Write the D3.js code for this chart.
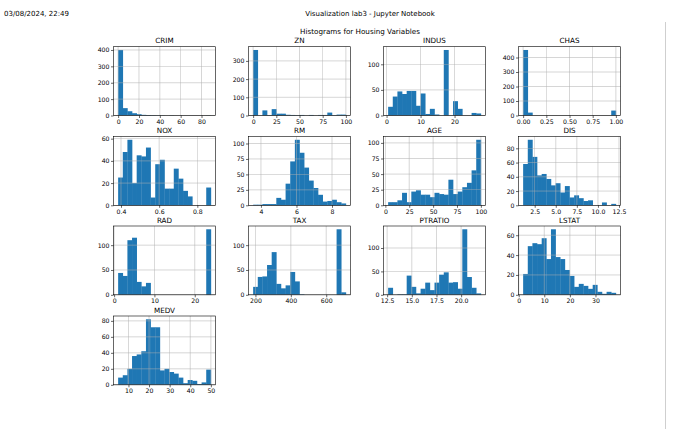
<!DOCTYPE html>
<html><head><meta charset="utf-8">
<script src="https://cdn.jsdelivr.net/npm/d3@7"></script>
<style>
body{margin:0;background:#fff;}
svg text{font-family:"DejaVu Sans",sans-serif;}
</style></head>
<body><svg id="c" width="680" height="429"></svg>
<script>
// ---- data (counts per bin, 20 bins each) ----
const variables = ["CRIM","ZN","INDUS","CHAS","NOX","RM","AGE","DIS","RAD","TAX","PTRATIO","LSTAT","MEDV"];
const crimCounts  = [400,45,26,14,8,4,3,2,1,1,0,1,0,0,0,0,0,0,0,1];
const znCounts    = [360,0,28,2,35,10,10,4,3,2,3,0,3,0,3,3,16,2,5,5];
const indusCounts = [17,37,47,42,48,48,19,43,3,13,2,0,128,0,28,13,0,0,5,4];
const chasCounts  = [452,20,0,0,0,0,0,0,0,0,0,0,0,0,0,0,0,0,0,34];
const noxCounts   = [25,48,59,20,45,44,52,7,37,41,15,15,33,24,13,8,0,0,0,16];
const rmCounts    = [1,1,2,2,2,12,9,35,71,106,85,61,40,28,17,6,7,9,5,3];
const ageCounts   = [5,5,8,20,5,22,24,17,17,13,20,18,17,41,18,22,29,36,56,105];
const disCounts   = [58,92,68,42,44,37,28,31,18,27,11,14,10,6,7,0,0,4,0,2];
const radCounts   = [44,38,110,115,26,17,24,0,0,0,0,0,0,0,0,0,0,0,0,132];
const taxCounts   = [16,36,37,60,86,22,13,19,46,27,1,0,0,0,0,0,0,0,132,5];
const ptCounts    = [15,0,1,1,41,17,3,13,26,10,26,43,48,26,27,13,140,38,15,3];
const lstatCounts = [21,49,52,51,57,36,66,38,36,25,19,8,11,9,6,10,3,1,3,2];
const medvCounts  = [9,12,20,36,38,42,82,72,72,18,20,16,14,9,2,6,5,1,3,19];
const allCounts = [crimCounts,znCounts,indusCounts,chasCounts,noxCounts,rmCounts,ageCounts,disCounts,radCounts,taxCounts,ptCounts,lstatCounts,medvCounts];
// data ranges [min, max]
const ranges = [[0.00632,88.9762],[0,100],[0.46,27.74],[0,1],[0.385,0.871],[3.561,8.78],[2.9,100],[1.1296,12.1265],[1,24],[187,711],[12.6,22],[1.73,37.97],[5,50]];
// tick labels
const xTicks = [
  ["0","20","40","60","80"],["0","25","50","75","100"],["0","10","20"],["0.00","0.25","0.50","0.75","1.00"],
  ["0.4","0.6","0.8"],["4","6","8"],["0","25","50","75","100"],["2.5","5.0","7.5","10.0","12.5"],
  ["0","10","20"],["200","400","600"],["12.5","15.0","17.5","20.0"],["0","10","20","30"],["10","20","30","40","50"]];
const yTicks = [
  ["0","100","200","300","400"],["0","100","200","300"],["0","50","100"],["0","100","200","300","400"],
  ["0","20","40","60"],["0","25","50","75","100"],["0","25","50","75","100"],["0","20","40","60","80"],
  ["0","50","100"],["0","50","100"],["0","50","100"],["0","20","40","60"],["0","20","40","60","80"]];

const headerLeft = "03/08/2024, 22:49";
const headerCenter = "Visualization lab3 - Jupyter Notebook";
const mainTitle = "Histograms for Housing Variables";

// ---- layout ----
const svg = d3.select("#c");
const colLeft = [113.5, 248.5, 383.5, 518.5];
const rowTop = [46.7, 136.5, 226, 316];
const W = 102, H = 68.8;
const blue = "#1f77b4";

svg.append("text").attr("x",4).attr("y",16).attr("font-size",7).text(headerLeft);
svg.append("text").attr("x",370).attr("y",16).attr("font-size",7).attr("text-anchor","middle").text(headerCenter);
svg.append("line").attr("x1",665.5).attr("x2",665.5).attr("y1",22).attr("y2",429).attr("stroke","#cfcfcf").attr("stroke-width",1);
svg.append("text").attr("x",360).attr("y",33.5).attr("font-size",7.2).attr("text-anchor","middle").text(mainTitle);

variables.forEach((name,i)=>{
  const r = Math.floor(i/4), c = i%4;
  const left = colLeft[c], top = rowTop[r];
  const counts = allCounts[i];
  const [mn,mx] = ranges[i];
  const span = mx-mn, bw = span/counts.length;
  const x = d3.scaleLinear().domain([mn-0.05*span, mx+0.05*span]).range([left,left+W]);
  const y = d3.scaleLinear().domain([0, d3.max(counts)*1.05]).range([top+H, top]);
  const g = svg.append("g");
  // bars
  g.selectAll("rect.bar").data(counts).join("rect").attr("class","bar")
    .attr("x",(d,k)=>x(mn+k*bw)).attr("width",(d,k)=>x(mn+(k+1)*bw)-x(mn+k*bw)+0.3)
    .attr("y",d=>y(d)).attr("height",d=>y(0)-y(d)).attr("fill",blue);
  // grid (above bars, like matplotlib)
  const xv = xTicks[i].map(Number), yv = yTicks[i].map(Number);
  g.selectAll("line.gx").data(xv).join("line").attr("x1",d=>x(d)).attr("x2",d=>x(d))
    .attr("y1",top).attr("y2",top+H).attr("stroke","#b0b0b0").attr("stroke-width",0.6).attr("opacity",0.85);
  g.selectAll("line.gy").data(yv).join("line").attr("y1",d=>y(d)).attr("y2",d=>y(d))
    .attr("x1",left).attr("x2",left+W).attr("stroke","#b0b0b0").attr("stroke-width",0.6).attr("opacity",0.85);
  // axes
  const xa = d3.axisBottom(x).tickValues(xv).tickFormat((d,k)=>xTicks[i][k]).tickSize(2.5).tickPadding(1.5);
  const ya = d3.axisLeft(y).tickValues(yv).tickFormat((d,k)=>yTicks[i][k]).tickSize(2.5).tickPadding(1.5);
  const gx = g.append("g").attr("transform",`translate(0,${top+H})`).call(xa);
  const gy = g.append("g").attr("transform",`translate(${left},0)`).call(ya);
  [gx,gy].forEach(a=>{
    a.select(".domain").remove();
    a.selectAll("text").attr("font-size",6.2).attr("fill","#000").style("font-family","DejaVu Sans");
    a.selectAll("line").attr("stroke","#000").attr("stroke-width",0.6);
  });
  g.append("rect").attr("x",left).attr("y",top).attr("width",W).attr("height",H)
    .attr("fill","none").attr("stroke","#000").attr("stroke-width",0.6);
  g.append("text").attr("x",left+W/2).attr("y",top-3.5).attr("font-size",7.2)
    .attr("text-anchor","middle").text(name);
});
</script></body></html>
